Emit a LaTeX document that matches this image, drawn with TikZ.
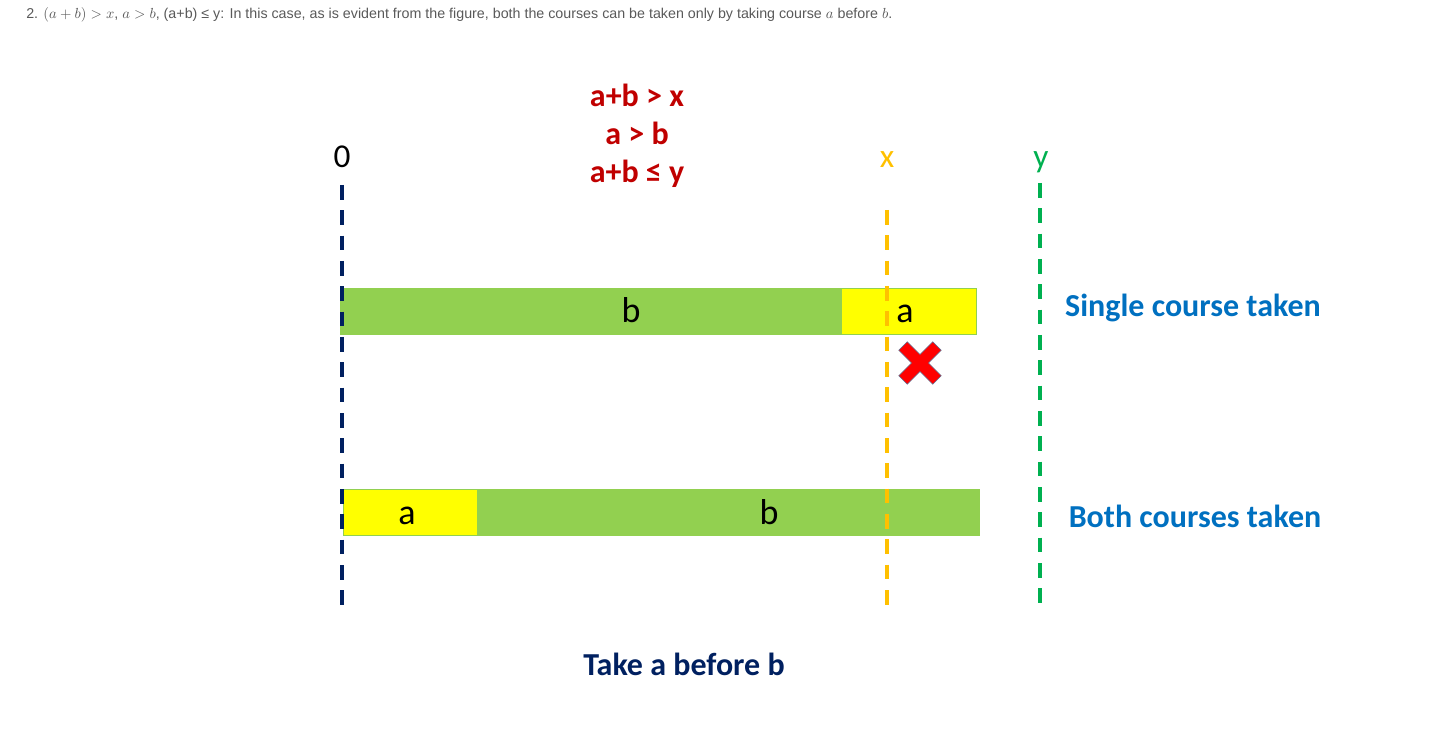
\documentclass[tikz,border=0pt]{standalone}
\usepackage{fontspec}
\setmainfont{Liberation Sans}
\newfontfamily\calibri{Carlito}
\usetikzlibrary{positioning}
\definecolor{navyline}{HTML}{002060}
\definecolor{xorange}{HTML}{FFC000}
\definecolor{ygreen}{HTML}{00B050}
\definecolor{bargreen}{HTML}{92D050}
\definecolor{baryellow}{HTML}{FFFF00}
\definecolor{condred}{HTML}{C00000}
\definecolor{noteblue}{HTML}{0070C0}
\definecolor{crossred}{HTML}{FF0000}
\definecolor{crossedge}{HTML}{5B6B8C}

\begin{document}
\begin{tikzpicture}[x=0.75pt, y=-0.75pt,
			bar/.style={draw=bargreen, line width=0.6pt, minimum height=34.5pt, inner sep=0pt},
			barlabel/.style={font=\calibri\fontsize{27}{30}\selectfont, inner sep=0pt, anchor=base},
			limit/.style={line width=3pt, dash pattern=on 11pt off 8pt},
			limitlabel/.style={font=\calibri\fontsize{25}{28}\selectfont, inner sep=0pt, anchor=base},
			cond/.style={font=\calibri\bfseries\fontsize{24}{28.5}\selectfont, text=condred, align=center},
			note/.style={font=\calibri\bfseries\fontsize{24}{28}\selectfont, text=noteblue}]
			
	\useasboundingbox (0,0) rectangle (1432,745);
	
	\node (caption) [anchor=west, text=black!65, font=\fontsize{10.7}{13}\selectfont, inner sep=0pt] at (26,15)
		{2. $(a+b)>x$, $a>b$, (a+b) ≤ y: In this case, as is evident from the figure, both the courses can be taken only by taking course $a$ before $b$.};
	
	\node (conditions) [cond] at (637,136) {a+b {>} x\\a {>} b\\a+b ≤ y};
	
	% bars
	\node (top b) [bar, fill=bargreen, minimum width=375pt, anchor=west] at (340,311) {};
	\node (top a) [bar, fill=baryellow, minimum width=101.25pt, right=0pt of top b] {};
	\node (bottom a) [bar, fill=baryellow, minimum width=100.5pt, anchor=west] at (343,512) {};
	\node (bottom b) [bar, fill=bargreen, minimum width=375.75pt, right=0pt of bottom a] {};
	\node (top b text) [barlabel] at (631,323) {b};
	\node (top a text) [barlabel] at (905,323) {a};
	\node (bottom a text) [barlabel] at (407,524) {a};
	\node (bottom b text) [barlabel] at (769,524) {b};
	
	% limits
	\node (zero) [limitlabel] at (342,168) {0};
	\node (x) [limitlabel, text=xorange] at (887,168) {x};
	\node (y) [limitlabel, text=ygreen] at (1041,168) {y};
	\coordinate (zero top) at (342,185);
	\coordinate (zero end) at (342,611);
	\coordinate (x top) at (887,210);
	\coordinate (x end) at (887,611);
	\coordinate (y top) at (1040,183);
	\coordinate (y end) at (1040,611);
	\draw[limit, navyline] (zero top) -- (zero end);
	\draw[limit, xorange] (x top) -- (x end);
	\draw[limit, ygreen] (y top) -- (y end);
	
	% cross
	\begin{scope}[shift={(920,363)}, rotate=45]
		\filldraw[fill=crossred, draw=crossedge, line width=0.4pt]
			(-6,-24) -- (6,-24) -- (6,-6) -- (24,-6) -- (24,6) -- (6,6) -- (6,24)
			-- (-6,24) -- (-6,6) -- (-24,6) -- (-24,-6) -- (-6,-6) -- cycle;
	\end{scope}
	
	\node (single) [note] at (1193,308) {Single course taken};
	\node (both) [note] at (1195,516) {Both courses taken};
	\node (order) [note, text=navyline] at (684,664) {Take a before b};
\end{tikzpicture}
\end{document}
